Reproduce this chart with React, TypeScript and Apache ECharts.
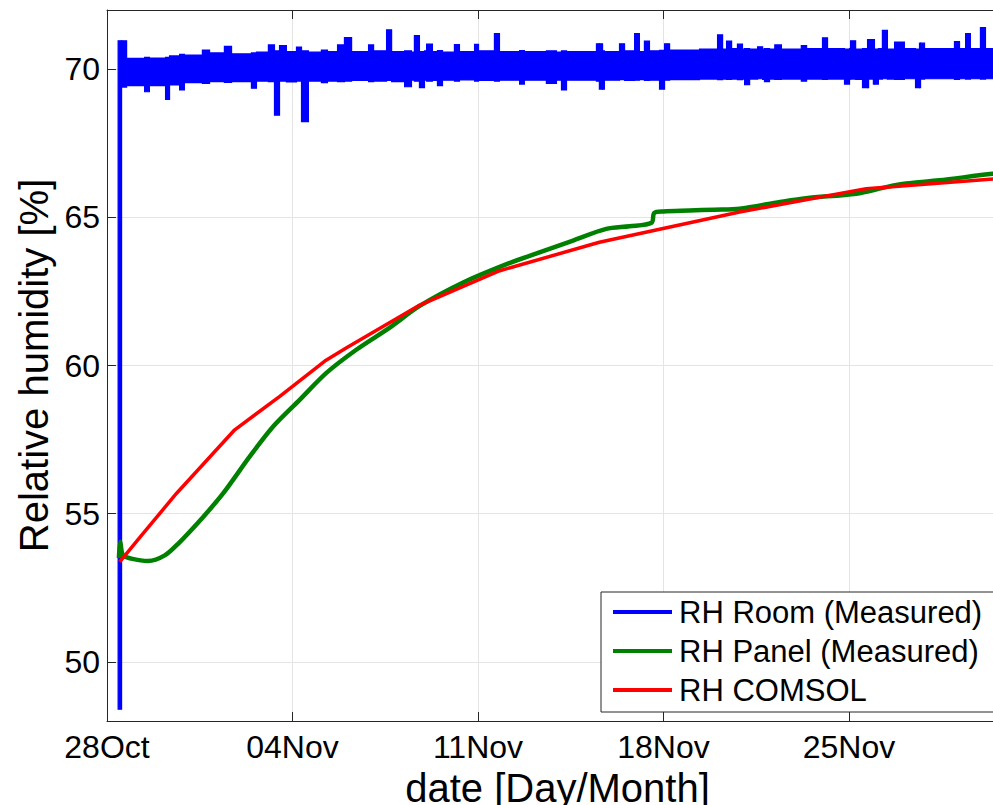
import React, { useEffect, useRef } from "react";
import * as echarts from "echarts";

// x positions are days counted from 28 Oct 00:00
const xTickDays = [0, 7, 14, 21, 28];
const xTickLabels = ["28Oct", "04Nov", "11Nov", "18Nov", "25Nov"];

const seriesNames = ["RH Room (Measured)", "RH Panel (Measured)", "RH COMSOL"];
const seriesColors = ["#0000ff", "#008000", "#ff0000"];

// RH Room (Measured): each reading holds from roomDays[i] to roomDays[i+1];
// roomLow / roomHigh are the lower / upper edges of the noisy measured band
const roomDays = [
  0.42, 0.55, 0.74, 1.42, 1.6, 2.21, 2.36, 2.74, 2.92, 3.6,
  3.87, 4.43, 4.7, 5.45, 5.64, 6.09, 6.32, 6.51, 6.77, 7.15,
  7.34, 7.6, 8.09, 8.32, 8.7, 8.96, 9.23, 9.87, 10.06, 10.55,
  10.74, 11.23, 11.49, 11.6, 11.79, 11.98, 12.06, 12.28, 12.47, 12.66,
  13.11, 13.3, 13.87, 14.02, 14.62, 14.81, 15.57, 15.75, 16.58, 16.96,
  17.15, 17.34, 18.47, 18.58, 18.7, 18.77, 19.34, 19.53, 19.91, 20.09,
  20.28, 20.47, 20.85, 21.04, 21.23, 22.36, 23.04, 23.23, 23.38, 23.57,
  23.79, 23.98, 24.06, 24.25, 24.55, 24.74, 24.81, 25.0, 25.2, 25.45,
  26.2, 26.4, 27.0, 27.19, 27.83, 28.02, 28.06, 28.25, 28.51, 28.7,
  28.74, 28.92, 28.96, 29.11, 29.26, 29.45, 29.72, 30.09, 30.51, 30.66,
  30.7, 30.85, 31.98, 32.17, 32.4, 32.58, 32.96, 33.15, 34.0,
];
const roomLow = [
  48.4, 69.4, 69.45, 69.24, 69.45, 68.98, 69.47, 69.3, 69.55, 69.52,
  69.58, 69.56, 69.58, 69.36, 69.6, 69.58, 68.45, 69.6, 69.57, 69.6,
  68.23, 69.6, 69.55, 69.6, 69.58, 69.6, 69.62, 69.58, 69.6, 69.62,
  69.58, 69.41, 69.63, 69.6, 69.38, 69.63, 69.6, 69.62, 69.45, 69.63,
  69.6, 69.64, 69.6, 69.62, 69.6, 69.63, 69.5, 69.63, 69.52, 69.63,
  69.3, 69.63, 69.6, 69.33, 69.33, 69.63, 69.65, 69.62, 69.63, 69.65,
  69.62, 69.63, 69.33, 69.63, 69.65, 69.67, 69.65, 69.67, 69.66, 69.67,
  69.65, 69.67, 69.48, 69.67, 69.68, 69.66, 69.58, 69.67, 69.66, 69.67,
  69.6, 69.67, 69.66, 69.67, 69.5, 69.67, 69.67, 69.66, 69.38, 69.38,
  69.67, 69.5, 69.5, 69.67, 69.68, 69.67, 69.66, 69.68, 69.38, 69.38,
  69.67, 69.68, 69.66, 69.68, 69.67, 69.68, 69.67, 69.68, 69.68,
];
const roomHigh = [
  70.96, 70.96, 70.37, 70.4, 70.38, 70.4, 70.45, 70.5, 70.48, 70.65,
  70.55, 70.77, 70.52, 70.55, 70.58, 70.82, 70.62, 70.8, 70.6, 70.75,
  70.62, 70.58, 70.65, 70.6, 70.82, 71.07, 70.6, 70.82, 70.62, 71.33,
  70.6, 70.62, 70.58, 71.14, 70.6, 70.62, 70.85, 70.6, 70.63, 70.58,
  70.83, 70.6, 70.84, 70.62, 71.2, 70.6, 70.63, 70.6, 70.62, 70.58,
  70.62, 70.6, 70.86, 70.86, 70.62, 70.6, 70.86, 70.62, 71.2, 70.6,
  70.95, 70.62, 70.64, 70.86, 70.65, 70.68, 71.16, 70.68, 70.95, 70.7,
  70.85, 70.68, 70.7, 70.68, 70.76, 70.68, 70.7, 70.68, 70.82, 70.68,
  70.8, 70.7, 71.06, 70.7, 70.68, 70.7, 70.96, 70.68, 70.7, 71.0,
  71.0, 71.0, 70.68, 70.7, 71.31, 70.68, 70.92, 70.7, 70.68, 70.88,
  70.88, 70.7, 70.93, 70.7, 71.2, 70.7, 71.41, 70.7, 70.7,
];

// RH Panel (Measured)
const panelDays = [
  0.45, 0.5, 0.6, 0.92, 1.55, 2.18, 2.69, 3.63, 4.38, 5.39,
  6.27, 7.28, 8.28, 9.42, 10.67, 11.8, 13.44, 15.08, 16.32, 17.56,
  18.84, 19.72, 20.55, 20.65, 21.0, 21.98, 22.9, 23.87, 25.4, 26.38,
  28.27, 29.4, 30.16, 31.4, 33.42, 34.0,
];
const panelRH = [
  53.5, 54.05, 53.6, 53.48, 53.4, 53.59, 53.99, 54.89, 55.68, 56.93,
  57.94, 58.85, 59.75, 60.54, 61.28, 62.01, 62.8, 63.42, 63.82, 64.21,
  64.61, 64.7, 64.82, 65.15, 65.2, 65.23, 65.26, 65.29, 65.52, 65.65,
  65.8, 66.02, 66.14, 66.25, 66.47, 66.5,
];

// RH COMSOL (simulation)
const comsolDays = [0.48, 1.24, 2.62, 4.82, 6.52, 8.22, 9.04, 11.74, 14.82, 18.58, 23.87, 28.65, 34.0];
const comsolRH = [53.37, 54.2, 55.68, 57.83, 58.96, 60.15, 60.6, 62.01, 63.2, 64.16, 65.18, 65.97, 66.33];

const FONT = "'Liberation Sans', Arial, Helvetica, sans-serif";
const AXIS_COLOR = "#262626";
const GRID_COLOR = "#e4e4e4";

export default function App() {
  const ref = useRef<HTMLDivElement>(null);

  useEffect(() => {
    if (!ref.current) return;
    const chart = echarts.init(ref.current, undefined, { renderer: "svg" });

    const axisLine = { show: true, onZero: false, lineStyle: { color: AXIS_COLOR, width: 1 } };
    const axisTick = { show: true, inside: true, length: 9, lineStyle: { color: AXIS_COLOR, width: 1 } };

    // one item per held reading: [start day, end day, low, high]
    const roomSegments = roomDays.slice(0, -1).map((d, i) => [d, roomDays[i + 1], roomLow[i], roomHigh[i]]);

    const option: any = {
      animation: false,
      backgroundColor: "#ffffff",
      textStyle: { fontFamily: FONT },
      grid: { left: 107, right: 12, top: 10, bottom: 84, containLabel: false, outerBoundsMode: "none" },
      legend: {
        show: true,
        orient: "vertical",
        left: 601,
        top: 592,
        selectedMode: false,
        data: seriesNames.map((n, i) => ({ name: n, icon: "rect", itemStyle: { color: seriesColors[i], borderWidth: 0 } })),
        itemWidth: 59,
        itemHeight: 4,
        itemGap: 7,
        padding: [4, 20, 6, 12],
        backgroundColor: "#ffffff",
        borderColor: AXIS_COLOR,
        borderWidth: 1,
        borderRadius: 0,
        textStyle: { fontSize: 31, color: "#000", fontFamily: FONT, lineHeight: 32, padding: [0, 0, 0, 2] },
      },
      xAxis: [
        {
          type: "value",
          min: 0,
          max: 34,
          interval: 7,
          position: "bottom",
          name: "date [Day/Month]",
          nameLocation: "middle",
          nameGap: 34,
          nameTextStyle: { fontSize: 40, color: "#000", fontFamily: FONT },
          axisLine,
          axisTick,
          axisLabel: {
            fontSize: 32,
            color: "#000",
            fontFamily: FONT,
            margin: 10,
            formatter: (v: number) => {
              const i = xTickDays.indexOf(v);
              return i >= 0 ? xTickLabels[i] : "";
            },
          },
          splitLine: { show: true, lineStyle: { color: GRID_COLOR, width: 1 } },
        },
        {
          type: "value",
          min: 0,
          max: 34,
          interval: 7,
          position: "top",
          axisLine,
          axisTick,
          axisLabel: { show: false },
          splitLine: { show: false },
        },
      ],
      yAxis: [
        {
          type: "value",
          min: 48,
          max: 72,
          splitNumber: 5,
          position: "left",
          name: "Relative humidity [%]",
          nameLocation: "middle",
          nameGap: 50,
          nameRotate: 90,
          nameTextStyle: { fontSize: 40, color: "#000", fontFamily: FONT },
          axisLine,
          axisTick,
          axisLabel: { fontSize: 32, color: "#000", fontFamily: FONT, margin: 7, showMinLabel: false, showMaxLabel: false },
          splitLine: { show: true, lineStyle: { color: GRID_COLOR, width: 1 } },
        },
        {
          type: "value",
          min: 48,
          max: 72,
          splitNumber: 5,
          position: "right",
          axisLine,
          axisTick,
          axisLabel: { show: false },
          splitLine: { show: false },
        },
      ],
      series: [
        {
          name: seriesNames[0],
          type: "custom",
          xAxisIndex: 0,
          yAxisIndex: 0,
          data: roomSegments,
          encode: { x: [0, 1], y: [2, 3] },
          itemStyle: { color: seriesColors[0] },
          z: 2,
          renderItem: (params: any, api: any) => {
            const p0 = api.coord([api.value(0), api.value(3)]);
            const p1 = api.coord([api.value(1), api.value(2)]);
            const shape = echarts.graphic.clipRectByRect(
              { x: p0[0], y: p0[1], width: p1[0] - p0[0], height: p1[1] - p0[1] },
              {
                x: params.coordSys.x,
                y: params.coordSys.y,
                width: params.coordSys.width,
                height: params.coordSys.height,
              }
            );
            if (!shape) return null;
            return {
              type: "rect",
              shape,
              style: { fill: seriesColors[0], stroke: seriesColors[0], lineWidth: 1.2 },
            };
          },
        },
        {
          name: seriesNames[1],
          type: "line",
          xAxisIndex: 0,
          yAxisIndex: 0,
          data: panelDays.map((d, i) => [d, panelRH[i]]),
          symbol: "none",
          showSymbol: false,
          smooth: 0.3,
          lineStyle: { color: seriesColors[1], width: 4.5 },
          itemStyle: { color: seriesColors[1] },
          z: 3,
        },
        {
          name: seriesNames[2],
          type: "line",
          xAxisIndex: 0,
          yAxisIndex: 0,
          data: comsolDays.map((d, i) => [d, comsolRH[i]]),
          symbol: "none",
          showSymbol: false,
          lineStyle: { color: seriesColors[2], width: 3.5 },
          itemStyle: { color: seriesColors[2] },
          z: 4,
        },
      ],
    };

    chart.setOption(option);
    return () => chart.dispose();
  }, []);

  return (
    <div style={{ position: "absolute", left: 0, top: 0, width: 993, height: 805, overflow: "hidden", background: "#fff" }}>
      <div ref={ref} style={{ width: 1020, height: 805 }} />
    </div>
  );
}
